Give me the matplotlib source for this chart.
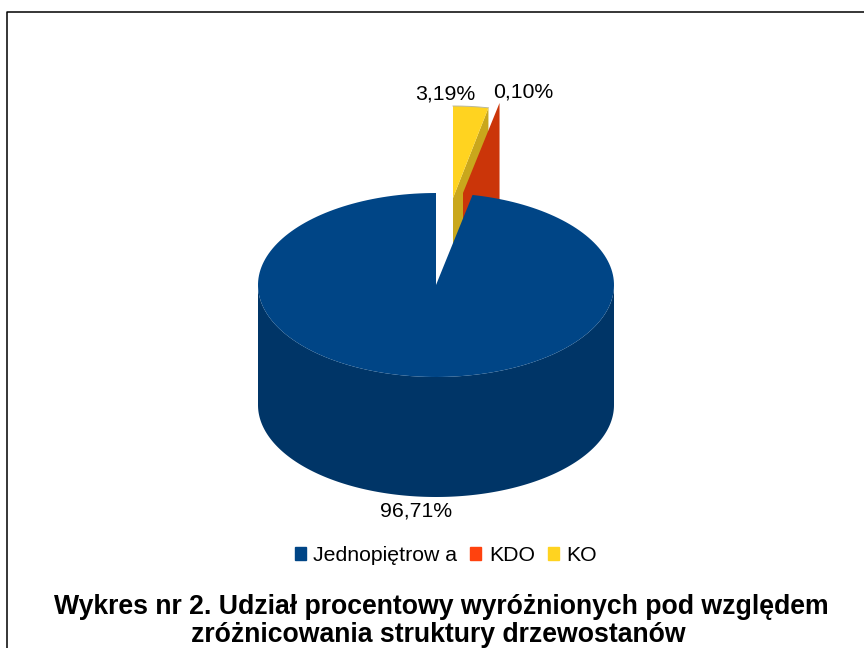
import numpy as np
import matplotlib
matplotlib.use('Agg')
import matplotlib.pyplot as plt
from matplotlib.patches import Patch

categories = ['Jednopiętrow a', 'KDO', 'KO']
shares = [96.71, 0.10, 3.19]
labels = ['96,71%', '0,10%', '3,19%']
title = ['Wykres nr 2. Udział procentowy wyróżnionych pod względem',
         'zróżnicowania struktury drzewostanów']

colors = ['#004586', '#FF420E', '#FFD320']
side_colors = ['#003567', '#CB3509', '#C9A71C']

CX, CY = 436, 285
RX, RY = 178, 92
DEPTH = 120


def arc(a0, a1, cx=CX, cy=CY, n=200):
    # angles in degrees, clockwise from 12 o'clock
    t = np.radians(np.linspace(a0, a1, n))
    return cx + RX*np.sin(t), cy - RY*np.cos(t)


def sector(ax, a0, a1, cx, cy, color, **kw):
    x, y = arc(a0, a1, cx, cy)
    ax.fill(np.r_[cx, x], np.r_[cy, y], color=color, lw=0, **kw)


def cut_face(ax, a, cx, cy, color):
    ex = cx + RX*np.sin(np.radians(a))
    ey = cy - RY*np.cos(np.radians(a))
    ax.fill([cx, ex, ex, cx], [cy, ey, ey+DEPTH, cy+DEPTH], color=color, lw=0)


fig = plt.figure(figsize=(8.64, 6.48), dpi=100)
ax = fig.add_axes([0, 0, 1, 1])
ax.set_xlim(0, 864)
ax.set_ylim(648, 0)
ax.axis('off')
plt.rcParams['font.family'] = ['Liberation Sans', 'DejaVu Sans']

# frame, only top and left are inside the picture
ax.plot([7, 7, 864], [648, 12, 12], c='black', lw=1.1)

# slices run clockwise from 12 o'clock: KO, KDO, then the big one
deg = [s/sum(shares)*360 for s in shares]
ko_end = deg[2]
kdo_end = deg[2] + deg[1]

# KO, pulled out
ko_c = (453, 198)
cut_face(ax, ko_end, ko_c[0], ko_c[1], side_colors[2])
sector(ax, 0, ko_end, ko_c[0], ko_c[1], colors[2])
x, y = arc(0, ko_end, ko_c[0], ko_c[1])
ax.plot(x, y, c='#B8B8A0', lw=0.7)

# KDO, pulled out
kdo_c = (463, 193)
cut_face(ax, kdo_end, kdo_c[0], kdo_c[1], side_colors[1])

# big slice: front wall then top
x, y = arc(90, 270)
ax.fill(np.r_[x, x[::-1]], np.r_[y, y[::-1]+DEPTH], color=side_colors[0], lw=0)
sector(ax, kdo_end, 360, CX, CY, colors[0])

ax.text(416.5, 511, labels[0], ha='center', va='center', fontsize=15.3)
ax.text(523.5, 92, labels[1], ha='center', va='center', fontsize=15.3)
ax.text(445, 94.5, labels[2], ha='center', va='center', fontsize=15.3)

handles = [Patch(color=c) for c in colors]
ax.legend(handles, categories, loc='center', bbox_to_anchor=(446/864, 1-555.5/648),
          ncol=3, frameon=False, fontsize=15.3, handlelength=0.52, handleheight=0.52,
          handletextpad=0.35, columnspacing=0.62, borderpad=0)

ax.text(441.5, 606.5, title[0], ha='center', va='center', fontsize=19.2, fontweight='bold')
ax.text(438, 635.5, title[1], ha='center', va='center', fontsize=19.2, fontweight='bold')

fig.savefig('out.png', dpi=100)
